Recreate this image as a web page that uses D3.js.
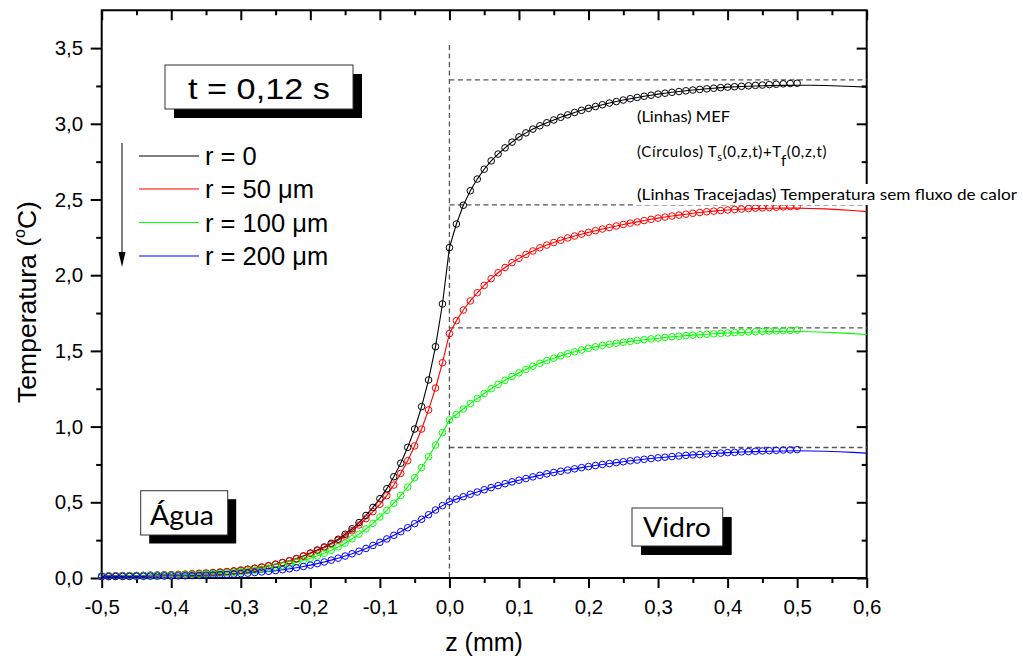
<!DOCTYPE html>
<html>
<head>
<meta charset="utf-8">
<script src="https://cdn.jsdelivr.net/npm/d3@7"></script>
<style>
  body { margin: 0; background: #fff; }
  svg { display: block; }
</style>
</head>
<body>
<svg id="chart" width="1023" height="664"></svg>
<script>
// z positions (mm) of the analytic solution T_s + T_f, every 0.01 mm from -0.5 to 0.5
const zPoints = d3.range(101).map(i => +(-0.5 + i * 0.01).toFixed(2));

// Temperature rise (°C) at t = 0.12 s, analytic solution (circles)
const tempR0 = [
  0.013,0.014,0.014,0.015,0.015,0.016,0.017,0.018,0.019,0.020,
  0.021,0.022,0.024,0.026,0.028,0.031,0.034,0.037,0.041,0.046,
  0.051,0.057,0.064,0.072,0.081,0.091,0.102,0.114,0.128,0.146,
  0.165,0.185,0.205,0.229,0.256,0.289,0.325,0.366,0.413,0.466,
  0.524,0.590,0.669,0.758,0.863,0.984,1.132,1.308,1.528,1.810,
  2.182,
  2.338,2.462,2.558,2.635,2.700,2.755,2.800,2.841,2.879,2.913,
  2.940,2.965,2.987,3.007,3.025,3.043,3.059,3.075,3.089,3.102,
  3.114,3.126,3.137,3.147,3.157,3.166,3.174,3.182,3.189,3.196,
  3.202,3.208,3.213,3.218,3.223,3.227,3.231,3.235,3.239,3.242,
  3.245,3.248,3.251,3.254,3.256,3.259,3.261,3.264,3.266,3.268
];
const tempR50 = [
  0.012,0.013,0.013,0.014,0.015,0.016,0.017,0.018,0.019,0.021,
  0.022,0.024,0.026,0.028,0.031,0.033,0.036,0.040,0.043,0.047,
  0.052,0.058,0.064,0.072,0.080,0.090,0.101,0.113,0.127,0.144,
  0.162,0.180,0.200,0.222,0.249,0.277,0.312,0.350,0.392,0.438,
  0.487,0.544,0.614,0.691,0.775,0.872,0.984,1.110,1.255,1.422,
  1.614,
  1.700,1.770,1.830,1.884,1.933,1.977,2.016,2.051,2.083,2.111,
  2.137,2.160,2.181,2.199,2.216,2.231,2.246,2.259,2.271,2.283,
  2.294,2.305,2.315,2.325,2.335,2.344,2.352,2.361,2.369,2.377,
  2.384,2.391,2.397,2.403,2.409,2.414,2.419,2.423,2.427,2.431,
  2.434,2.437,2.440,2.443,2.445,2.447,2.449,2.451,2.453,2.455
];
const tempR100 = [
  0.011,0.012,0.012,0.013,0.014,0.014,0.015,0.016,0.017,0.018,
  0.019,0.020,0.022,0.023,0.025,0.027,0.029,0.032,0.035,0.038,
  0.042,0.047,0.052,0.058,0.065,0.073,0.082,0.092,0.103,0.116,
  0.130,0.145,0.163,0.183,0.205,0.230,0.259,0.290,0.324,0.361,
  0.403,0.447,0.494,0.545,0.601,0.663,0.730,0.801,0.878,0.960,
  1.044,
  1.080,1.116,1.152,1.186,1.219,1.250,1.279,1.306,1.331,1.355,
  1.378,1.399,1.418,1.436,1.452,1.467,1.481,1.494,1.506,1.517,
  1.527,1.536,1.544,1.551,1.557,1.563,1.569,1.574,1.579,1.584,
  1.589,1.593,1.597,1.601,1.604,1.607,1.610,1.613,1.616,1.618,
  1.621,1.623,1.625,1.627,1.629,1.631,1.632,1.634,1.635,1.637
];
const tempR200 = [
  0.009,0.009,0.010,0.010,0.010,0.011,0.011,0.012,0.012,0.013,
  0.013,0.014,0.015,0.016,0.017,0.019,0.020,0.022,0.024,0.026,
  0.029,0.032,0.036,0.040,0.044,0.049,0.055,0.061,0.068,0.076,
  0.085,0.095,0.106,0.118,0.131,0.145,0.160,0.177,0.195,0.215,
  0.236,0.258,0.282,0.306,0.332,0.359,0.388,0.418,0.449,0.478,
  0.504,
  0.521,0.537,0.553,0.568,0.583,0.597,0.610,0.623,0.635,0.646,
  0.657,0.668,0.678,0.688,0.697,0.705,0.713,0.721,0.729,0.736,
  0.743,0.750,0.756,0.762,0.768,0.774,0.779,0.784,0.789,0.794,
  0.798,0.802,0.806,0.810,0.813,0.816,0.819,0.822,0.825,0.828,
  0.830,0.833,0.835,0.837,0.839,0.841,0.843,0.845,0.846,0.848
];

// FEM (MEF) solution: follows the points up to z = 0.40, then continues to 0.6 mm
const zTail = [0.42, 0.44, 0.46, 0.48, 0.50, 0.52, 0.54, 0.56, 0.58, 0.60];
const mefTailR0   = [3.246,3.250,3.252,3.254,3.255,3.255,3.253,3.250,3.246,3.242];
const mefTailR50  = [2.436,2.440,2.442,2.443,2.443,2.441,2.438,2.433,2.427,2.420];
const mefTailR100 = [1.622,1.625,1.627,1.628,1.628,1.626,1.623,1.619,1.614,1.608];
const mefTailR200 = [0.832,0.835,0.837,0.839,0.840,0.839,0.837,0.834,0.830,0.825];

// Temperature without heat flux across the interface (dashed levels)
const noFluxLevels = [3.29, 2.465, 1.652, 0.862];

const seriesLabels = ["r = 0", "r = 50 \u03BCm", "r = 100 \u03BCm", "r = 200 \u03BCm"];
const seriesColors = ["#000000", "#ff0000", "#00ff00", "#0000ff"];

// Axis ticks
const xMajorTicks = [-0.5,-0.4,-0.3,-0.2,-0.1,0,0.1,0.2,0.3,0.4,0.5,0.6];
const xMinorTicks = [-0.45,-0.35,-0.25,-0.15,-0.05,0.05,0.15,0.25,0.35,0.45,0.55];
const yMajorTicks = [0,0.5,1,1.5,2,2.5,3,3.5];
const yMinorTicks = [0.25,0.75,1.25,1.75,2.25,2.75,3.25];

const svg = d3.select("#chart");
const x = d3.scaleLinear().domain([-0.5, 0.6]).range([101.7, 866.7]);
const y = d3.scaleLinear().domain([0, 3.75]).range([578, 10.25]);
const comma = d => d3.format(".1f")(d).replace(".", ",").replace("\u2212", "-");

const circleSeries = [tempR0, tempR50, tempR100, tempR200];
const tailSeries = [mefTailR0, mefTailR50, mefTailR100, mefTailR200];

// Axes (major + minor ticks)
function addAxis(axisGen, transform, ticks, size, labels, pad) {
  const g = svg.append("g").attr("transform", transform)
    .call(axisGen.tickValues(ticks).tickSize(size).tickPadding(pad || 3)
      .tickFormat(labels ? comma : ""));
  g.select(".domain").remove();
  g.selectAll(".tick line").attr("stroke", "#000").attr("stroke-width", 2);
  g.selectAll(".tick text").attr("font-family", "'Liberation Sans', Arial, sans-serif")
    .attr("font-size", 20.5).attr("fill", "#000");
  return g;
}
addAxis(d3.axisBottom(x), "translate(0,578)", xMajorTicks, 10, true, 11.5);
addAxis(d3.axisBottom(x), "translate(0,578)", xMinorTicks, 5, false);
addAxis(d3.axisLeft(y), "translate(101.7,0)", yMajorTicks, 11, true, 7.5);
addAxis(d3.axisLeft(y), "translate(101.7,0)", yMinorTicks, 5.5, false);
addAxis(d3.axisTop(x), "translate(0,10.25)", xMajorTicks, -10, false);
addAxis(d3.axisTop(x), "translate(0,10.25)", xMinorTicks, -5, false);
addAxis(d3.axisRight(y), "translate(866.7,0)", yMajorTicks, -10, false);
addAxis(d3.axisRight(y), "translate(866.7,0)", yMinorTicks, -5, false);

svg.append("rect")
  .attr("x", x(-0.5)).attr("y", y(3.75))
  .attr("width", x(0.6) - x(-0.5)).attr("height", y(0) - y(3.75))
  .attr("fill", "none").attr("stroke", "#000").attr("stroke-width", 2);

// Dashed reference lines: interface z = 0 and no-flux temperatures
const dashStyle = sel => sel.attr("stroke", "#555").attr("stroke-width", 1.3)
  .attr("stroke-dasharray", "5,3.5").attr("fill", "none");
svg.append("line")
  .attr("x1", x(0)).attr("x2", x(0)).attr("y1", y(3.52)).attr("y2", y(0))
  .call(dashStyle);
svg.selectAll("line.noflux").data(noFluxLevels).enter().append("line")
  .attr("class", "noflux")
  .attr("x1", x(0)).attr("x2", x(0.6))
  .attr("y1", d => y(d)).attr("y2", d => y(d))
  .call(dashStyle);

// FEM lines
const line = d3.line().x(d => x(d[0])).y(d => y(d[1]));
circleSeries.forEach((vals, i) => {
  const pts = zPoints.map((z, k) => [z, vals[k]]).filter(p => p[0] <= 0.40 + 1e-9)
    .concat(zTail.map((z, k) => [z, tailSeries[i][k]]));
  svg.append("path").datum(pts).attr("d", line)
    .attr("fill", "none").attr("stroke", seriesColors[i]).attr("stroke-width", 1.1);
});

// Analytic solution circles
circleSeries.forEach((vals, i) => {
  svg.append("g").selectAll("circle").data(zPoints.map((z, k) => [z, vals[k]]))
    .enter().append("circle")
    .attr("cx", d => x(d[0])).attr("cy", d => y(d[1])).attr("r", 3.3)
    .attr("fill", "none").attr("stroke", seriesColors[i]).attr("stroke-width", 1);
});

// Boxed labels with drop shadow
function shadowBox(bx, by, bw, bh, off, text, font, size, tx, ty, len) {
  svg.append("rect").attr("x", bx + off).attr("y", by + off).attr("width", bw).attr("height", bh)
    .attr("fill", "#000");
  svg.append("rect").attr("x", bx).attr("y", by).attr("width", bw).attr("height", bh)
    .attr("fill", "#fff").attr("stroke", "#333").attr("stroke-width", 1);
  const t = svg.append("text").attr("x", tx).attr("y", ty)
    .attr("font-family", font).attr("font-size", size).attr("fill", "#000").text(text);
  if (len) t.attr("textLength", len).attr("lengthAdjust", "spacingAndGlyphs");
}
const sansFont = "'Liberation Sans', Arial, sans-serif";
const calFont = "Lato, 'Open Sans', sans-serif";
shadowBox(165, 65, 188, 44, 9, "t = 0,12 s", sansFont, 30, 188, 98.5, 142);
shadowBox(140.7, 490.7, 87, 44.3, 8.5, "\u00C1gua", calFont, 27, 150, 525, 64);
shadowBox(632, 508, 90.7, 38, 9, "Vidro", calFont, 27, 643, 537, 68);

// Legend with downward arrow
svg.append("line").attr("x1", 122).attr("x2", 122).attr("y1", 143).attr("y2", 256)
  .attr("stroke", "#000").attr("stroke-width", 1);
svg.append("path").attr("d", "M118.5,252 L125.5,252 L122,267 Z").attr("fill", "#000");
const legendRows = [156, 189, 222.5, 256];
seriesLabels.forEach((lab, i) => {
  svg.append("line").attr("x1", 139).attr("x2", 199)
    .attr("y1", legendRows[i]).attr("y2", legendRows[i])
    .attr("stroke", seriesColors[i]).attr("stroke-width", 1.1);
  svg.append("text").attr("x", 205).attr("y", legendRows[i] + 9)
    .attr("font-family", sansFont).attr("font-size", 25.5).attr("fill", "#000").text(lab);
});

// Annotations
svg.append("text").attr("x", 637).attr("y", 122)
  .attr("font-family", calFont).attr("font-size", 15).attr("fill", "#000")
  .attr("textLength", 93).attr("lengthAdjust", "spacingAndGlyphs")
  .text("(Linhas) MEF");
const circText = svg.append("text").attr("x", 637).attr("y", 157)
  .attr("font-family", calFont).attr("font-size", 15).attr("fill", "#000")
  .attr("letter-spacing", 0.65);
circText.append("tspan").text("(C\u00EDrculos) T");
circText.append("tspan").attr("font-size", 11).attr("dy", 4).text("s");
circText.append("tspan").attr("dy", -4).text("(0,z,t)+T");
circText.append("tspan").attr("font-size", 15).attr("dy", 9).text("f");
circText.append("tspan").attr("dy", -9).text("(0,z,t)");

svg.append("rect").attr("x", 635).attr("y", 184).attr("width", 385).attr("height", 21)
  .attr("fill", "#fff");
svg.append("text").attr("x", 637).attr("y", 200)
  .attr("font-family", calFont).attr("font-size", 15).attr("fill", "#000")
  .attr("textLength", 380).attr("lengthAdjust", "spacingAndGlyphs")
  .text("(Linhas Tracejadas) Temperatura sem fluxo de calor");

// Axis titles
svg.append("text").attr("x", 484).attr("y", 651).attr("text-anchor", "middle")
  .attr("font-family", sansFont).attr("font-size", 25).attr("fill", "#000")
  .text("z (mm)");
const yTitle = svg.append("text")
  .attr("transform", "translate(36,302) rotate(-90)").attr("text-anchor", "middle")
  .attr("font-family", sansFont).attr("font-size", 26.5).attr("fill", "#000");
yTitle.append("tspan").text("Temperatura (");
yTitle.append("tspan").attr("font-size", 16).attr("dy", -11).text("o");
yTitle.append("tspan").attr("dy", 11).text("C)");
</script>
</body>
</html>
